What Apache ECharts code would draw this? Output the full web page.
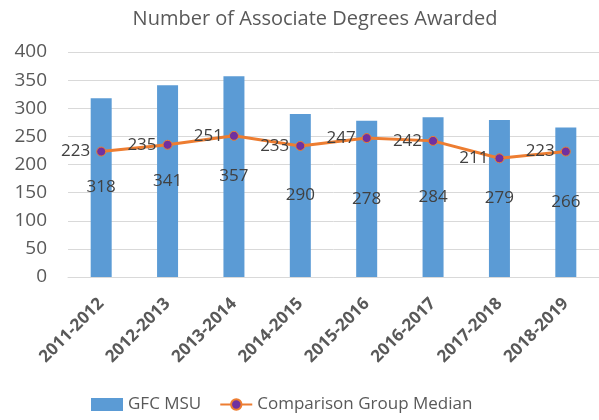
<!DOCTYPE html>
<html>
<head>
<meta charset="utf-8">
<script src="https://cdn.jsdelivr.net/npm/echarts@6/dist/echarts.min.js"></script>
<style>
  html, body { margin: 0; padding: 0; background: #fff; }
  #chart { width: 599px; height: 420px; }
</style>
</head>
<body>
<div id="chart"></div>
<script>
var years = ['2011-2012', '2012-2013', '2013-2014', '2014-2015', '2015-2016', '2016-2017', '2017-2018', '2018-2019'];
var gfcMsu = [318, 341, 357, 290, 278, 284, 279, 266];
var groupMedian = [223, 235, 251, 233, 247, 242, 211, 223];

var font = 'Open Sans';
var chart = echarts.init(document.getElementById('chart'));
chart.setOption({
  animation: false,
  textStyle: { fontFamily: font },
  title: {
    text: 'Number of Associate Degrees Awarded',
    left: 310, top: 4, textAlign: 'center',
    textStyle: { fontFamily: font, fontSize: 20, fontWeight: 'normal', color: '#595959' }
  },
  legend: {
    bottom: 2, left: 86,
    itemGap: 18, itemWidth: 32, itemHeight: 13,
    textStyle: { fontFamily: font, fontSize: 17, color: '#595959' },
    data: [
      { name: 'GFC MSU', icon: 'rect' },
      { name: 'Comparison Group Median' }
    ]
  },
  grid: { left: 68, right: 0, top: 52, bottom: 143 },
  xAxis: {
    type: 'category',
    data: years,
    axisLine: { lineStyle: { color: '#d9d9d9' } },
    axisTick: { show: false },
    axisLabel: {
      rotate: 45, margin: 24, interval: 0,
      fontFamily: font, fontSize: 17, fontWeight: 'bold', color: '#595959'
    }
  },
  yAxis: {
    type: 'value', min: 0, max: 400, interval: 50,
    axisLine: { show: false },
    axisTick: { show: false },
    splitLine: { lineStyle: { color: '#d9d9d9' } },
    axisLabel: { margin: 21, fontFamily: font, fontSize: 19, color: '#595959' }
  },
  series: [
    {
      name: 'GFC MSU',
      type: 'bar',
      data: gfcMsu,
      barWidth: 21,
      itemStyle: { color: '#5b9bd5' },
      label: {
        show: true, position: 'inside',
        fontFamily: font, fontSize: 17, color: '#404040'
      }
    },
    {
      name: 'Comparison Group Median',
      type: 'line',
      data: groupMedian,
      symbol: 'circle', symbolSize: 9,
      lineStyle: { color: '#ed7d31', width: 3 },
      itemStyle: { color: '#7030a0', borderColor: '#ed7d31', borderWidth: 1 },
      label: {
        show: true, position: 'left', distance: 6,
        fontFamily: font, fontSize: 17, color: '#404040'
      }
    }
  ]
});
</script>
</body>
</html>
